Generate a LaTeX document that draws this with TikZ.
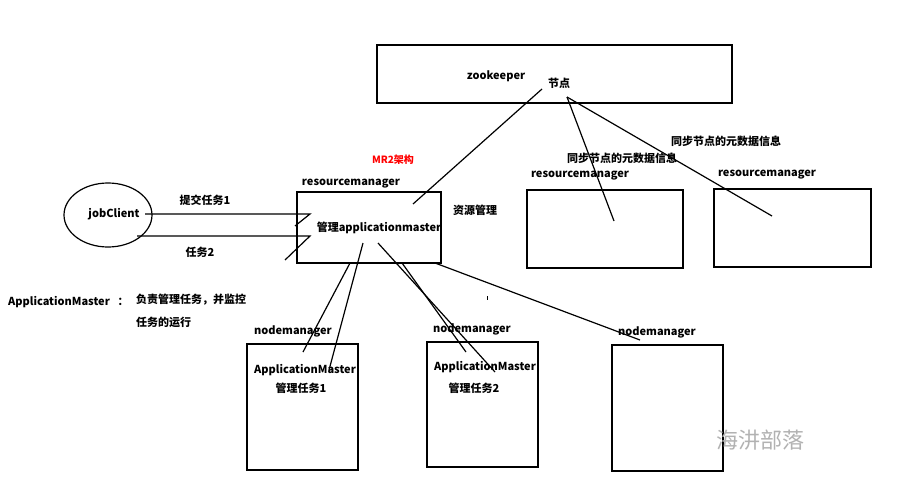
\documentclass[tikz,border=0pt]{standalone}
\usepackage{fontspec}
\setmainfont{Noto Sans CJK SC}
\usetikzlibrary{shapes.geometric}
\begin{document}
\begin{tikzpicture}[x=1pt,y=-1pt,
  box/.style={draw,line width=1.4pt,inner sep=0pt,outer sep=0pt},
  lab/.style={font=\fontsize{11}{13}\selectfont\bfseries,inner sep=0pt},
  ln/.style={line width=1.2pt}]
\useasboundingbox[fill=white] (0,0) rectangle (907,487);
% boxes
\node[box,minimum width=355pt,minimum height=58pt] (zk) at (554.5,74) {};
\node[box,minimum width=144pt,minimum height=71pt] (rm) at (369,227.5) {};
\node[box,minimum width=156pt,minimum height=78pt] (rm2) at (605,229) {};
\node[box,minimum width=157pt,minimum height=78pt] (rm3) at (792.5,228) {};
\node[box,minimum width=111pt,minimum height=126pt] (nm1) at (302.5,407) {};
\node[box,minimum width=111pt,minimum height=125pt] (nm2) at (482.5,404.5) {};
\node[box,minimum width=111pt,minimum height=126pt] (nm3) at (667.5,408) {};
\node[draw,ellipse,line width=1.2pt,inner sep=0pt,minimum width=88pt,minimum height=64pt] (jc) at (108,215) {};
% texts
\node[lab] (tzk) at (496,76) {zookeeper};
\node[lab] (tjd) at (559,83) {节点};
\node[lab] (sync1) at (622,158) {同步节点的元数据信息};
\node[lab] (sync2) at (726,141) {同步节点的元数据信息};
\node[lab] (trm) at (351,184) {resourcemanager};
\node[lab] (trm2) at (580,176) {resourcemanager};
\node[lab] (trm3) at (767,175) {resourcemanager};
\node[lab] (tam) at (379,228) {管理applicationmaster};
\node[lab] (tzy) at (475,210) {资源管理};
\node[font=\fontsize{10}{12}\selectfont\bfseries,text=red,inner sep=0pt] (tmr) at (393,160) {MR2架构};
\node[lab] (tjc) at (114,214) {jobClient};
\node[lab] (ttj) at (205,200) {提交任务1};
\node[lab] (trw) at (200,252) {任务2};
\node[lab] (tAM) at (59,302) {ApplicationMaster};
\node[lab] (tcolon) at (123,302) {：};
\node[lab] (tfz) at (191,300) {负责管理任务，并监控};
\node[lab,anchor=west] (tyx) at (136,322) {任务的运行};
\node[lab] (tnm1) at (293,331) {nodemanager};
\node[lab] (tnm2) at (472,329) {nodemanager};
\node[lab] (tnm3) at (657,332) {nodemanager};
\node[lab] (tam1) at (305,370) {ApplicationMaster};
\node[lab] (tgl1) at (301,388) {管理任务1};
\node[lab] (tam2) at (485,367) {ApplicationMaster};
\node[lab] (tgl2) at (474,388) {管理任务2};
\node[font=\fontsize{22}{24}\selectfont,text=black!30,inner sep=0pt] (wm) at (760,440) {海汫部落};
% coordinates
\coordinate (zkA) at (542,89);
\coordinate (zkB) at (567,97);
\coordinate (rmA) at (413,204);
\coordinate (rm2p) at (614,221);
\coordinate (rm3p) at (772,216);
\coordinate (j1) at (145,214);
\coordinate (r1) at (310,214);
\coordinate (r1b) at (295,226);
\coordinate (j2) at (137,236);
\coordinate (r2) at (310,236);
\coordinate (r2b) at (285,260);
\coordinate (la0) at (350,263); \coordinate (la1) at (303,352);
\coordinate (lb0) at (363,243); \coordinate (lb1) at (329,370);
\coordinate (lc0) at (378,243); \coordinate (lc1) at (495,372);
\coordinate (ld0) at (402,263); \coordinate (ld1) at (466,352);
\coordinate (le0) at (435,263); \coordinate (le1) at (640,340);
\coordinate (tk0) at (487,296); \coordinate (tk1) at (487,300);
% connectors
\draw[ln] (zkA) -- (rmA);
\draw[ln] (zkB) -- (rm2p);
\draw[ln] (zkB) -- (rm3p);
\draw[ln] (j1) -- (r1) -- (r1b);
\draw[ln] (j2) -- (r2) -- (r2b);
\draw[ln] (la0) -- (la1);
\draw[ln] (lb0) -- (lb1);
\draw[ln] (lc0) -- (lc1);
\draw[ln] (ld0) -- (ld1);
\draw[ln] (le0) -- (le1);
\draw[line width=0.8pt] (tk0) -- (tk1);
\end{tikzpicture}
\end{document}
